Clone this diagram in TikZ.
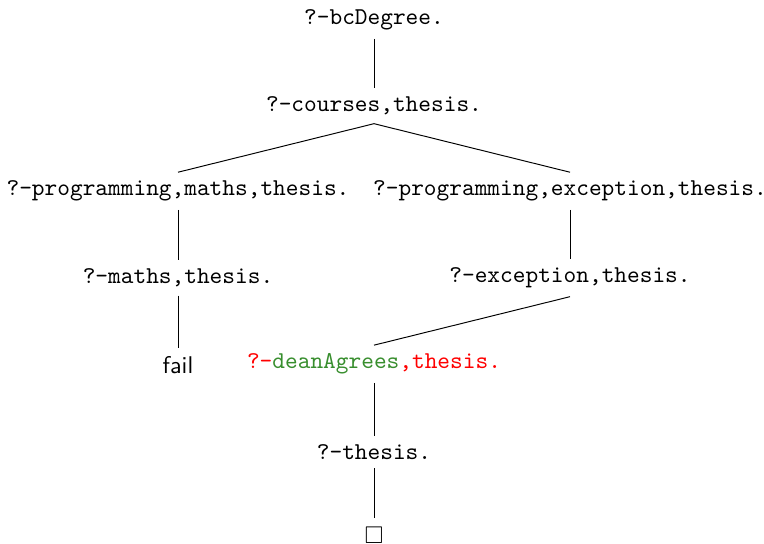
\documentclass[tikz,border=0pt]{standalone}
\usepackage{amssymb}
\definecolor{goalgreen}{RGB}{56,142,46}
\begin{document}
\begin{tikzpicture}[x=0.4135pt,y=-0.4135pt,
  goal/.style={font=\ttfamily, inner sep=3.33pt},
  edge/.style={draw=black, line width=0.4pt}]
\useasboundingbox (0,0) rectangle (764,544);
\node[goal] (n1) at (374,20) {?-bcDegree.};
\node[goal] (n2) at (374,106) {?-courses,thesis.};
\node[goal] (n3) at (178,191) {?-programming,maths,thesis.};
\node[goal] (n4) at (570,191) {?-programming,exception,thesis.};
\node[goal] (n5) at (178,278) {?-maths,thesis.};
\node[goal] (n6) at (570,278) {?-exception,thesis.};
\node[inner sep=3.33pt, font=\sffamily] (n7) at (178,365) {fail};
\node[goal] (n8) at (374,364) {\textcolor{red}{?-}\textcolor{goalgreen}{deanAgrees}\textcolor{red}{,thesis.}};
\node[goal] (n9) at (374,452) {?-thesis.};
\node[inner sep=3.33pt] (n10) at (374,535) {$\Box$};
\draw[edge] (n1.south) -- (n2.north);
\draw[edge] (n2.south) -- (n3.north);
\draw[edge] (n2.south) -- (n4.north);
\draw[edge] (n3.south) -- (n5.north);
\draw[edge] (n4.south) -- (n6.north);
\draw[edge] (n5.south) -- (n7.north);
\draw[edge] (n6.south) -- (n8.north);
\draw[edge] (n8.south) -- (n9.north);
\draw[edge] (n9.south) -- (n10.north);
\end{tikzpicture}
\end{document}
